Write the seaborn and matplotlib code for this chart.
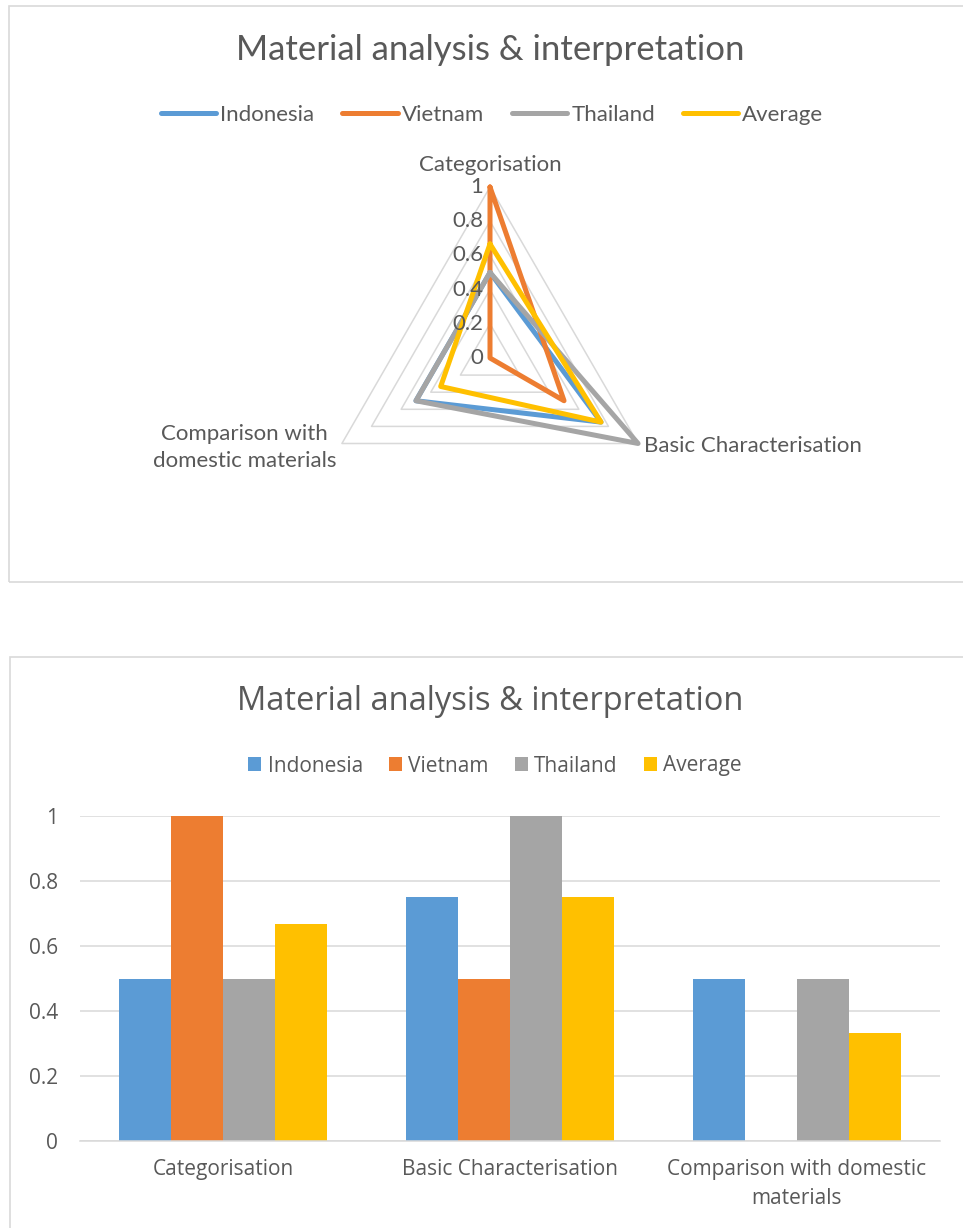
import numpy as np
import pandas as pd
import seaborn as sns
import matplotlib.pyplot as plt
from matplotlib.patches import Rectangle, Patch
from matplotlib.lines import Line2D

# ---- data -------------------------------------------------------------
categories = ["Categorisation", "Basic Characterisation",
              "Comparison with domestic materials"]
series = ["Indonesia", "Vietnam", "Thailand", "Average"]
indonesia = [0.5, 0.75, 0.5]
vietnam = [1.0, 0.5, 0.0]
thailand = [0.5, 1.0, 0.5]
average = [0.667, 0.75, 0.333]
value_ticks = [0, 0.2, 0.4, 0.6, 0.8, 1]
value_tick_labels = ["0", "0.2", "0.4", "0.6", "0.8", "1"]
title = "Material analysis & interpretation"

colors = {"Indonesia": "#5B9BD5", "Vietnam": "#ED7D31",
          "Thailand": "#A5A5A5", "Average": "#FFC000"}
text_color = "#595959"
grid_color = "#D9D9D9"

values = dict(zip(series, [indonesia, vietnam, thailand, average]))

long_rows = [(s, c, i, v) for s in series
             for i, (c, v) in enumerate(zip(categories, values[s]))]
df = pd.DataFrame(long_rows, columns=["series", "category", "idx", "value"])

sns.set_theme(style="white")
plt.rcParams["font.family"] = ["Lato", "DejaVu Sans"]

W, H = 963, 1228
fig = plt.figure(figsize=(W / 100, H / 100), dpi=100)
fig.patch.set_facecolor("white")


def fx(px):
    return px / W


def fy(py):
    return 1 - py / H


# chart frames
fig.patches.append(Rectangle((fx(9), fy(582)), fx(1200), (582 - 6) / H,
                             transform=fig.transFigure, fill=False,
                             edgecolor=grid_color, lw=1.2))
fig.patches.append(Rectangle((fx(10), fy(1400)), fx(1200), (1400 - 657) / H,
                             transform=fig.transFigure, fill=False,
                             edgecolor=grid_color, lw=1.2))

# ---- radar chart ------------------------------------------------------
radar_fs = 16
cx, cy, R = 490, 358, 171
ax1 = fig.add_axes([fx(cx - R), fy(cy + R), 2 * R / W, 2 * R / H],
                   projection="polar")
ax1.set_theta_offset(np.pi / 2)
ax1.set_theta_direction(-1)
ax1.set_ylim(0, 1)
ax1.grid(False)
ax1.spines["polar"].set_visible(False)
ax1.patch.set_visible(False)
ax1.set_xticks([])
ax1.set_yticks([])

n = len(categories)
angles = np.linspace(0, 2 * np.pi, n, endpoint=False)
closed = np.append(angles, angles[0])

for r in value_ticks[1:]:
    ax1.plot(closed, [r] * (n + 1), color=grid_color, lw=1.1, clip_on=False)

# long table of polygon vertices, each series closed back to its first point
radar = df.copy()
radar["theta"] = angles[radar["idx"]]
first = radar[radar["idx"] == 0].copy()
first["theta"] = 2 * np.pi
radar = pd.concat([radar, first])
radar["order"] = radar["series"].map({s: i for i, s in enumerate(series)})
radar = radar.sort_values(["order", "theta"])
sns.lineplot(data=radar, x="theta", y="value", hue="series",
             hue_order=series, palette=colors, sort=False, estimator=None,
             linewidth=3.6, legend=False, ax=ax1)
for ln in ax1.get_lines():
    ln.set_clip_on(False)
    ln.set_solid_joinstyle("round")
ax1.set_xlabel("")
ax1.set_ylabel("")

for r, lab in zip(value_ticks, value_tick_labels):
    ax1.annotate(lab, xy=(0, r), xytext=(-5, 0), textcoords="offset points",
                 ha="right", va="center", fontsize=radar_fs, color=text_color)

label_specs = [
    dict(xytext=(0, 16), ha="center", va="center"),
    dict(xytext=(4, -2), ha="left", va="center"),
    dict(xytext=(-4, -3), ha="right", va="center"),
]
radar_labels = ["Categorisation", "Basic Characterisation",
                "Comparison with\ndomestic materials"]
for a, lab, spec in zip(angles, radar_labels, label_specs):
    ax1.annotate(lab, xy=(a, 1), textcoords="offset points",
                 multialignment="center", fontsize=radar_fs, color=text_color,
                 annotation_clip=False, linespacing=1.45, **spec)

fig.text(fx(490), fy(50), title, ha="center", va="center",
         fontsize=25, color=text_color)
line_handles = [Line2D([0], [0], color=colors[s], lw=3.6,
                       solid_capstyle="round") for s in series]
fig.legend(line_handles, series, loc="center",
           bbox_to_anchor=(fx(492), fy(115)), ncol=4, frameon=False,
           fontsize=radar_fs, handlelength=2.5, handletextpad=0.18,
           columnspacing=1.25, labelcolor=text_color)

# ---- clustered bar chart ----------------------------------------------
bar_font = ["Open Sans", "DejaVu Sans"]
bar_fs = 15
ax2 = fig.add_axes([fx(80), fy(1141), fx(860), 325 / H])
sns.barplot(data=df, x="category", y="value", hue="series",
            hue_order=series, order=categories, palette=colors,
            saturation=1, width=0.725, gap=0, linewidth=0,
            errorbar=None, legend=False, ax=ax2)
ax2.set_ylim(0, 1)
ax2.set_xlim(-0.5, len(categories) - 0.5)
ax2.set_yticks(value_ticks)
ax2.set_yticklabels(value_tick_labels, family=bar_font, fontsize=bar_fs,
                    color=text_color)
ax2.set_xticks(range(len(categories)))
ax2.set_xticklabels(["Categorisation", "Basic Characterisation",
                     "Comparison with domestic\nmaterials"],
                    family=bar_font, fontsize=bar_fs, color=text_color,
                    linespacing=1.5)
ax2.yaxis.grid(True, color=grid_color, lw=1.1)
ax2.set_axisbelow(True)
for side in ["left", "right", "top"]:
    ax2.spines[side].set_visible(False)
ax2.spines["bottom"].set_color(grid_color)
ax2.spines["bottom"].set_linewidth(1.1)
ax2.tick_params(axis="y", length=0, pad=16)
ax2.tick_params(axis="x", length=0, pad=13)
ax2.set_xlabel("")
ax2.set_ylabel("")
ax2.patch.set_visible(False)

fig.text(fx(490), fy(701), title, ha="center", va="center",
         fontsize=23.5, color=text_color, family=bar_font)
patch_handles = [Patch(facecolor=colors[s], edgecolor="none") for s in series]
fig.legend(patch_handles, series, loc="center",
           bbox_to_anchor=(fx(495), fy(766)), ncol=4, frameon=False,
           prop={"family": bar_font, "size": bar_fs}, handlelength=0.63,
           handleheight=0.63, handletextpad=0.3, columnspacing=1.25,
           labelcolor=text_color)

fig.savefig("out.png", dpi=100, facecolor="white")
